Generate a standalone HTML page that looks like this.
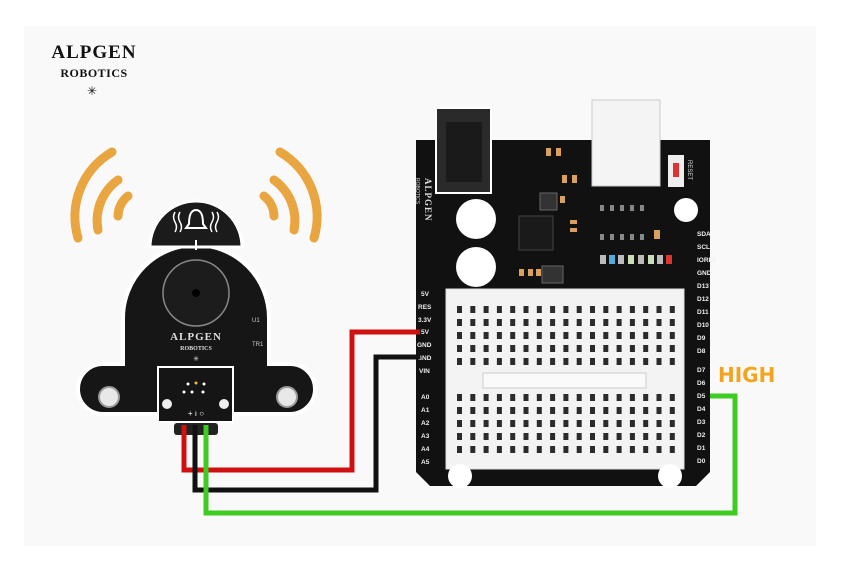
<!DOCTYPE html>
<html><head><style>
html,body{margin:0;padding:0;background:#fff;}
svg{display:block;}
</style></head><body>
<svg width="849" height="571" viewBox="0 0 849 571" xmlns="http://www.w3.org/2000/svg" font-family="Liberation Sans, sans-serif">
<defs>
<g id="row">
<rect x="457" width="5" height="7"/><rect x="470.3" width="5" height="7"/><rect x="483.6" width="5" height="7"/><rect x="496.9" width="5" height="7"/><rect x="510.2" width="5" height="7"/><rect x="523.5" width="5" height="7"/><rect x="536.8" width="5" height="7"/><rect x="550.1" width="5" height="7"/><rect x="563.4" width="5" height="7"/><rect x="576.7" width="5" height="7"/><rect x="590" width="5" height="7"/><rect x="603.3" width="5" height="7"/><rect x="616.6" width="5" height="7"/><rect x="629.9" width="5" height="7"/><rect x="643.2" width="5" height="7"/><rect x="656.5" width="5" height="7"/><rect x="669.8" width="5" height="7"/>
</g>
</defs>
<rect x="0" y="0" width="849" height="571" fill="#fff"/>
<rect x="24" y="26" width="792" height="520" fill="#f9f9f9"/>
<!-- logo -->
<text x="94" y="58" text-anchor="middle" font-family="Liberation Serif, serif" font-weight="bold" font-size="19" fill="#111" letter-spacing="1">ALPGEN</text>
<text x="94" y="77" text-anchor="middle" font-family="Liberation Serif, serif" font-weight="bold" font-size="12" fill="#111" letter-spacing="0.5">ROBOTICS</text>
<text x="92" y="95" text-anchor="middle" font-size="12" fill="#111">✳</text>

<!-- waves -->
<g fill="none" stroke="#e8a540" stroke-width="9" stroke-linecap="round">
<path d="M112 152 A75 75 0 0 0 78 238"/>
<path d="M118 180 A50 50 0 0 0 98 230"/>
<path d="M128 196 A26 26 0 0 0 118 216"/>
<path d="M280 152 A75 75 0 0 1 314 238"/>
<path d="M274 180 A50 50 0 0 1 294 230"/>
<path d="M264 196 A26 26 0 0 1 274 216"/>
</g>

<!-- buzzer module -->
<path d="M123 318 A73 73 0 0 1 269 318 L269 364 L290 364 A16 16 0 0 1 290 414 L103 414 A16 16 0 0 1 103 364 L123 364 Z" fill="#161616" stroke="#fff" stroke-width="4"/>
<path d="M150 247 A46 46 0 0 1 242 247 Z" fill="#1b1b1b" stroke="#fff" stroke-width="3"/>
<path d="M189 224 Q189 210 196 210 Q203 210 203 224 L206 228 L186 228 Z" fill="none" stroke="#fff" stroke-width="2"/>
<g stroke="#fff" stroke-width="1.5" fill="none"><path d="M180 212 q-3 5 0 10 q3 5 0 10"/><path d="M175 212 q-3 5 0 10 q3 5 0 10"/><path d="M212 212 q3 5 0 10 q-3 5 0 10"/><path d="M217 212 q3 5 0 10 q-3 5 0 10"/></g>
<line x1="196" y1="240" x2="196" y2="250" stroke="#fff" stroke-width="2"/>
<circle cx="109" cy="397" r="10" fill="#e8e8e8" stroke="#999" stroke-width="2"/>
<circle cx="287" cy="397" r="10" fill="#e8e8e8" stroke="#999" stroke-width="2"/>
<circle cx="196" cy="293" r="33" fill="#1c1c1c" stroke="#888" stroke-width="1.5"/>
<circle cx="196" cy="293" r="4" fill="#000"/>
<text x="196" y="340" text-anchor="middle" font-family="Liberation Serif, serif" font-weight="bold" font-size="11" fill="#ddd" letter-spacing="1">ALPGEN</text>
<text x="196" y="350" text-anchor="middle" font-family="Liberation Serif, serif" font-weight="bold" font-size="6" fill="#ddd">ROBOTICS</text>
<text x="196" y="361" text-anchor="middle" font-size="7" fill="#ddd">✳</text>
<text x="252" y="322" font-size="6" fill="#ccc">U1</text>
<text x="252" y="346" font-size="6" fill="#ccc">TR1</text>
<rect x="158" y="367" width="75" height="55" fill="#151515" stroke="#fff" stroke-width="2"/>
<circle cx="167" cy="404" r="5" fill="#eee"/>
<circle cx="224" cy="404" r="5" fill="#eee"/>
<text x="196" y="416" text-anchor="middle" font-size="8" fill="#fff">+  ı  ○</text>
<circle cx="188" cy="384" r="1.5" fill="#fff"/><circle cx="196" cy="383" r="1.5" fill="#eb4"/><circle cx="204" cy="384" r="1.5" fill="#fff"/>
<circle cx="184" cy="392" r="1.5" fill="#fff"/><circle cx="192" cy="392" r="1.5" fill="#fff"/><circle cx="203" cy="392" r="1.5" fill="#fff"/>
<rect x="174" y="423" width="44" height="12" rx="3" fill="#222"/>

<!-- Arduino board -->
<path d="M416 140 L710 140 L710 472 L696 486 L430 486 L416 472 Z" fill="#111"/>
<rect x="436" y="108" width="55" height="85" fill="#2a2a2a" stroke="#fff" stroke-width="2"/>
<rect x="446" y="122" width="36" height="60" fill="#1a1a1a"/>
<rect x="592" y="100" width="68" height="86" fill="#f4f4f4" stroke="#ccc"/>
<rect x="668" y="155" width="16" height="32" fill="#eee"/><rect x="673" y="163" width="6" height="14" fill="#d33"/>
<text transform="translate(688,160) rotate(90)" font-size="6" fill="#ddd">RESET</text>
<circle cx="686" cy="210" r="12" fill="#fff"/>
<circle cx="476" cy="219" r="20" fill="#fff"/>
<circle cx="476" cy="267" r="20" fill="#fff"/>
<text transform="translate(425,178) rotate(90)" font-family="Liberation Serif, serif" font-weight="bold" font-size="9" fill="#ddd" letter-spacing="1">ALPGEN</text>
<text transform="translate(416,178) rotate(90)" font-size="5" fill="#ddd">ROBOTICS</text>
<rect x="519" y="216" width="34" height="34" fill="#1a1a1a" stroke="#444"/>
<rect x="540" y="193" width="17" height="17" fill="#333" stroke="#666"/>
<rect x="542" y="266" width="21" height="17" fill="#333" stroke="#666"/>
<g fill="#d9a060"><rect x="546" y="148" width="5" height="8"/><rect x="556" y="148" width="5" height="8"/><rect x="562" y="175" width="5" height="8"/><rect x="572" y="175" width="5" height="8"/><rect x="560" y="196" width="5" height="7"/><rect x="570" y="220" width="7" height="4"/><rect x="570" y="228" width="7" height="4"/><rect x="654" y="230" width="6" height="9"/><rect x="519" y="269" width="5" height="7"/><rect x="528" y="269" width="5" height="7"/><rect x="536" y="269" width="5" height="7"/></g>
<g fill="#888"><rect x="600" y="205" width="4" height="6"/><rect x="610" y="205" width="4" height="6"/><rect x="620" y="205" width="4" height="6"/><rect x="630" y="205" width="4" height="6"/><rect x="640" y="205" width="4" height="6"/><rect x="600" y="234" width="4" height="6"/><rect x="610" y="234" width="4" height="6"/><rect x="620" y="234" width="4" height="6"/><rect x="630" y="234" width="4" height="6"/><rect x="640" y="234" width="4" height="6"/></g>
<g><rect x="600" y="255" width="6" height="9" fill="#bbb"/><rect x="609" y="255" width="6" height="9" fill="#5ad"/><rect x="618" y="255" width="6" height="9" fill="#bbb"/><rect x="628" y="255" width="6" height="9" fill="#cdb"/><rect x="638" y="255" width="6" height="9" fill="#bbb"/><rect x="648" y="255" width="6" height="9" fill="#cdb"/><rect x="657" y="255" width="6" height="9" fill="#bbb"/><rect x="666" y="255" width="6" height="9" fill="#d33"/></g>
<!-- pin labels -->
<g font-size="6.5" font-weight="bold" fill="#eee">
<text x="421" y="296">5V</text><text x="418" y="309">RES</text><text x="418" y="322">3.3V</text><text x="421" y="334">5V</text><text x="417" y="347">GND</text><text x="417" y="360">GND</text><text x="419" y="373">VIN</text>
<text x="421" y="399">A0</text><text x="421" y="412">A1</text><text x="421" y="425">A2</text><text x="421" y="438">A3</text><text x="421" y="451">A4</text><text x="421" y="464">A5</text>
<text x="697" y="236">SDA</text><text x="697" y="249">SCL</text><text x="697" y="262">IOREF</text><text x="697" y="275">GND</text>
<text x="697" y="288">D13</text><text x="697" y="301">D12</text><text x="697" y="314">D11</text><text x="697" y="327">D10</text><text x="697" y="340">D9</text><text x="697" y="353">D8</text>
<text x="697" y="372">D7</text><text x="697" y="385">D6</text><text x="697" y="398">D5</text><text x="697" y="411">D4</text><text x="697" y="424">D3</text><text x="697" y="437">D2</text><text x="697" y="450">D1</text><text x="697" y="463">D0</text>
</g>
<!-- breadboard -->
<rect x="446" y="289" width="238" height="180" fill="#f3f3f3" stroke="#ddd"/>
<rect x="483" y="373" width="163" height="15" fill="#fafafa" stroke="#ccc"/>
<g fill="#2b2b2b">
<use href="#row" y="306"/><use href="#row" y="319"/><use href="#row" y="332"/><use href="#row" y="345"/><use href="#row" y="358"/>
<use href="#row" y="394"/><use href="#row" y="407"/><use href="#row" y="420"/><use href="#row" y="433"/><use href="#row" y="446"/>
</g>
<circle cx="460" cy="476" r="12" fill="#fff"/>
<circle cx="670" cy="476" r="12" fill="#fff"/>

<!-- wires -->
<g fill="none" stroke-width="5" stroke-linejoin="miter">
<polyline points="184,425 184,470 352,470 352,332 420,332" stroke="#d0100f"/>
<polyline points="195,425 195,490 376,490 376,357 420,357" stroke="#111"/>
<polyline points="206,425 206,513 735,513 735,396 710,396" stroke="#3fcc22"/>
</g>
<text x="718" y="382" font-family="DejaVu Sans, sans-serif" font-weight="bold" font-size="20" fill="#f2a41e">HIGH</text>
</svg>
</body></html>
